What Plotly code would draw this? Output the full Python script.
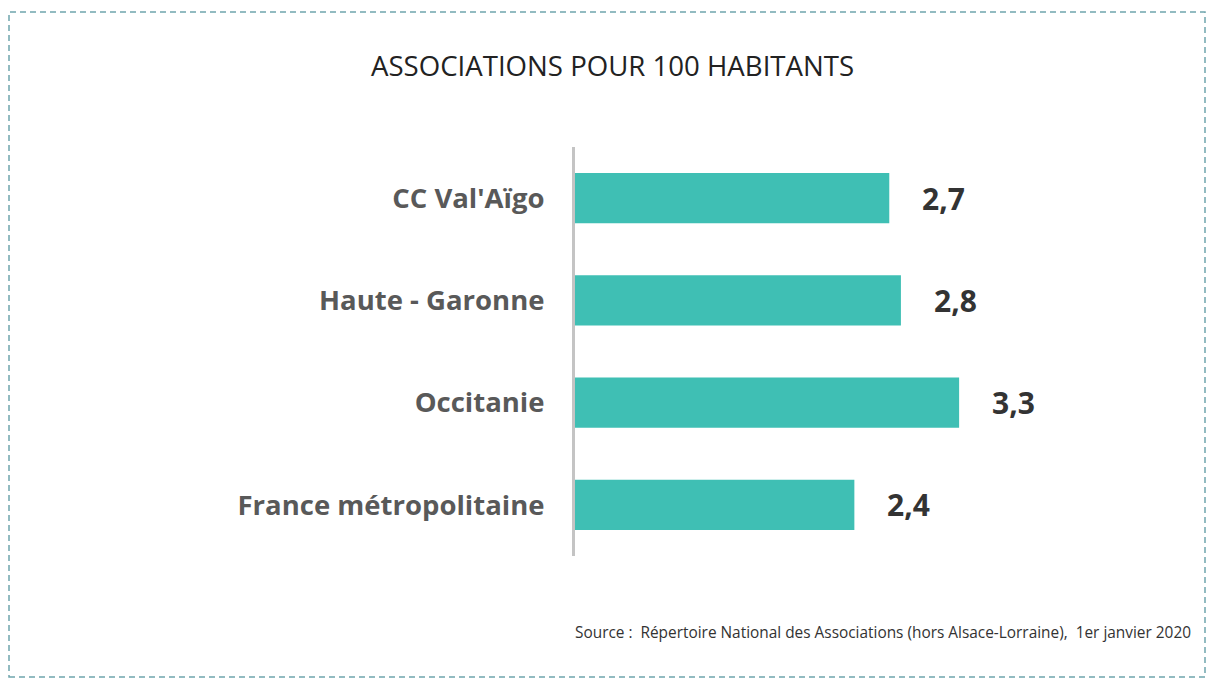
import plotly.graph_objects as go

categories = ["CC Val'Aïgo", "Haute - Garonne", "Occitanie", "France métropolitaine"]
values = [2.7, 2.8, 3.3, 2.4]
value_labels = ["2,7", "2,8", "3,3", "2,4"]

title = "ASSOCIATIONS POUR 100 HABITANTS"
source = "Source :  Répertoire National des Associations (hors Alsace-Lorraine),  1er janvier 2020"

W, H = 1206, 680
ML, MR, MT, MB = 575, 49, 147, 124
pw = W - ML - MR
ph = H - MT - MB
FONT = "Open Sans"

def px_x(x):
    return (x - ML) / pw

def px_y(y):
    return (H - MB - y) / ph

fig = go.Figure(go.Bar(
    x=values, y=categories, orientation="h",
    marker=dict(color="#3FBFB4", line=dict(width=0)),
    width=0.49, hoverinfo="skip",
))

for c, v, t in zip(categories, values, value_labels):
    fig.add_annotation(x=v, y=c, text=f"<b>{t}</b>", showarrow=False,
                       xanchor="left", xshift=31,
                       font=dict(family=FONT, size=30, color="#333333"))

fig.add_annotation(xref="paper", yref="paper", x=px_x(612), y=px_y(65),
                   text=title, showarrow=False, xanchor="center", yanchor="middle",
                   font=dict(family=FONT, size=27.6, color="#222222"))
fig.add_annotation(xref="paper", yref="paper", x=px_x(1193), y=px_y(632),
                   text=source, showarrow=False, xanchor="right", yanchor="middle",
                   font=dict(family=FONT, size=15.4, color="#333333"))

fig.add_shape(type="rect", xref="paper", yref="paper",
              x0=px_x(9), x1=px_x(1205), y0=px_y(677), y1=px_y(12),
              line=dict(color="#6FA5AD", width=1.5, dash="6px,4px"), layer="below")

fig.update_layout(
    width=W, height=H,
    margin=dict(l=ML, r=MR, t=MT, b=MB),
    plot_bgcolor="white", paper_bgcolor="white",
    showlegend=False,
    xaxis=dict(range=[0, 5], visible=False, fixedrange=True),
    yaxis=dict(autorange="reversed", showline=True, linecolor="#C4C4C4",
               linewidth=3, ticks="", ticklabelstandoff=22,
               tickfont=dict(family=FONT, size=27.5, color="#595959", weight="bold"),
               showgrid=False, zeroline=False),
)

fig.write_html("out.html", config={"displayModeBar": False},
               post_script="document.body.style.margin='0';")
